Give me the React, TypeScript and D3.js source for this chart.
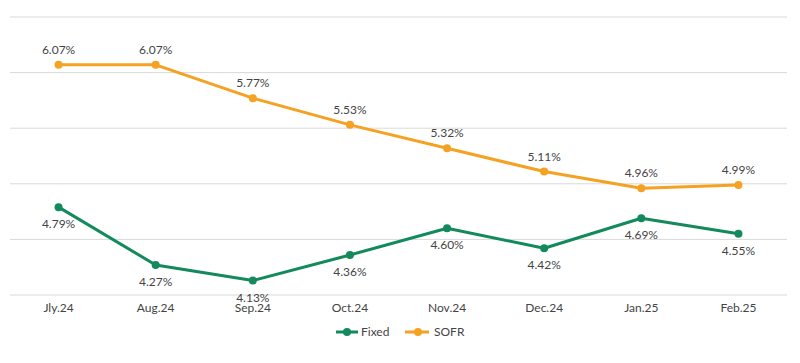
import React from 'react';
import * as d3 from 'd3';

const width = 800;
const height = 363;
const margin = { left: 10, right: 13, top: 17, bottom: 68 };

const months = ['Jly.24', 'Aug.24', 'Sep.24', 'Oct.24', 'Nov.24', 'Dec.24', 'Jan.25', 'Feb.25'];
const fixed = [4.79, 4.27, 4.13, 4.36, 4.6, 4.42, 4.69, 4.55];
const sofr = [6.07, 6.07, 5.77, 5.53, 5.32, 5.11, 4.96, 4.99];
const yTicks = [4.0, 4.5, 5.0, 5.5, 6.0, 6.5];

const green = '#138a5c';
const orange = '#f5a122';
const textColor = '#444444';
const font = 'Lato, sans-serif';
const fs = 12;

const x = d3.scaleBand()
  .domain(months)
  .range([margin.left, width - margin.right]);

const y = d3.scaleLinear()
  .domain([4.0, 6.5])
  .range([height - margin.bottom, margin.top]);

const cx = (m: string) => (x(m) as number) + x.bandwidth() / 2;

const line = d3.line<number>()
  .x((d, i) => cx(months[i]))
  .y(d => y(d));

export default function App() {
  const series = [
    { name: 'Fixed', values: fixed, color: green, dy: 21 },
    { name: 'SOFR', values: sofr, color: orange, dy: -11 },
  ];
  return (
    <svg width={width} height={height} style={{ position: 'absolute', left: 0, top: 0 }}>
      {yTicks.map(t => (
        <line key={t} x1={margin.left} x2={width - margin.right} y1={y(t)} y2={y(t)}
          stroke="#d9d9d9" strokeWidth={1} />
      ))}
      {months.map(m => (
        <text key={m} x={cx(m)} y={height - margin.bottom + 17} textAnchor="middle"
          fontFamily={font} fontSize={fs} fill={textColor}>{m}</text>
      ))}
      {series.map(s => (
        <g key={s.name}>
          <path d={line(s.values) || ''} fill="none" stroke={s.color} strokeWidth={3}
            strokeLinejoin="round" />
          {s.values.map((v, i) => (
            <circle key={i} cx={cx(months[i])} cy={y(v)} r={4} fill={s.color} />
          ))}
          {s.values.map((v, i) => (
            <text key={'l' + i} x={cx(months[i])} y={y(v) + s.dy} textAnchor="middle"
              fontFamily={font} fontSize={fs} fill={textColor}>{v.toFixed(2)}%</text>
          ))}
        </g>
      ))}
      <g transform="translate(336, 332)">
        <line x1={0} x2={22} y1={0} y2={0} stroke={green} strokeWidth={3} />
        <circle cx={11} cy={0} r={4} fill={green} />
        <text x={25} y={4} fontFamily={font} fontSize={fs} fill={textColor}>Fixed</text>
      </g>
      <g transform="translate(405, 332)">
        <line x1={0} x2={24} y1={0} y2={0} stroke={orange} strokeWidth={3} />
        <circle cx={13} cy={0} r={4} fill={orange} />
        <text x={29} y={4} fontFamily={font} fontSize={fs} fill={textColor}>SOFR</text>
      </g>
    </svg>
  );
}
